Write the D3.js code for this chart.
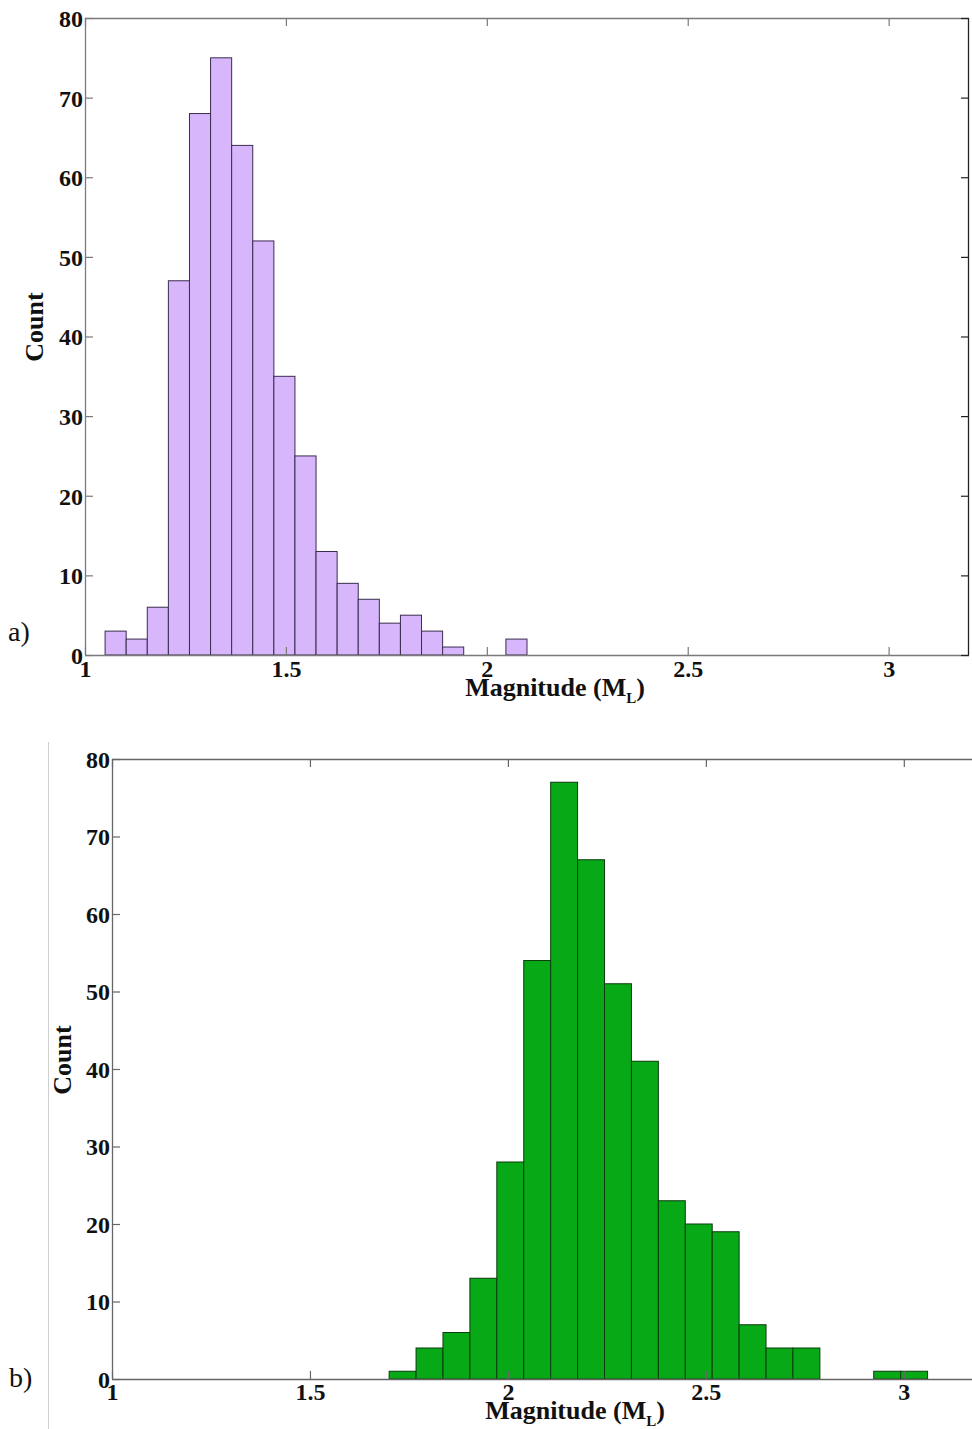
<!DOCTYPE html>
<html>
<head>
<meta charset="utf-8">
<script src="https://cdn.jsdelivr.net/npm/d3@7"></script>
<style>
  html, body { margin: 0; padding: 0; background: #fff; overflow: hidden; }
  svg { display: block; }
  text { font-family: "Liberation Serif", "Times New Roman", serif; }
</style>
</head>
<body>
<svg id="chart" width="972" height="1429"></svg>
<script>
// ---- Data ----
const xTicks = [1, 1.5, 2, 2.5, 3];
const xTickLabels = ["1", "1.5", "2", "2.5", "3"];
const yTicks = [0, 10, 20, 30, 40, 50, 60, 70, 80];
const yTickLabels = ["0", "10", "20", "30", "40", "50", "60", "70", "80"];

// Panel a: 20 bins from 1.05 to 2.10
const binStartA = 1.05;
const binWidthA = 0.0525;
const countsA = [3, 2, 6, 47, 68, 75, 64, 52, 35, 25, 13, 9, 7, 4, 5, 3, 1, 0, 0, 2];

// Panel b: 20 bins from 1.70 to 3.06
const binStartB = 1.70;
const binWidthB = 0.068;
const countsB = [1, 4, 6, 13, 28, 54, 77, 67, 51, 41, 23, 20, 19, 7, 4, 4, 0, 0, 1, 1];

const panels = [
  { label: "a)", counts: countsA, start: binStartA, width: binWidthA,
    left: 85, right: 969, top: 18, bottom: 655, xMax: 3.2,
    fill: "#d7b6fc", stroke: "#3a2c4e", axisColor: "#7a7a7a", rightColor: "#222",
    countX: 43, countY: 327, magX: 555, magY: 696, tickLabelY: 677,
    panelX: 8, panelY: 641 },
  { label: "b)", counts: countsB, start: binStartB, width: binWidthB,
    left: 112, right: 983, top: 759, bottom: 1379, xMax: 3.2,
    fill: "#07aa16", stroke: "#0b3b0e", axisColor: "#666", rightColor: "#222",
    countX: 71, countY: 1060, magX: 575, magY: 1419, tickLabelY: 1400,
    panelX: 9, panelY: 1387 }
];

const svg = d3.select("#chart");

// thin frame line to the left of panel b
svg.append("line")
  .attr("x1", 48.5).attr("x2", 48.5).attr("y1", 742).attr("y2", 1429)
  .attr("stroke", "#cfcfcf").attr("stroke-width", 1);

panels.forEach(p => {
  const x = d3.scaleLinear().domain([1, p.xMax]).range([p.left, p.right]);
  const y = d3.scaleLinear().domain([0, 80]).range([p.bottom, p.top]);
  const g = svg.append("g");

  // bars
  const bins = p.counts.map((c, i) => ({ x0: p.start + i * p.width, x1: p.start + (i + 1) * p.width, c }));
  g.selectAll("rect.bar").data(bins.filter(d => d.c > 0)).enter().append("rect")
    .attr("class", "bar")
    .attr("x", d => x(d.x0))
    .attr("width", d => x(d.x1) - x(d.x0))
    .attr("y", d => y(d.c))
    .attr("height", d => y(0) - y(d.c))
    .attr("fill", p.fill)
    .attr("stroke", p.stroke)
    .attr("stroke-width", 1);

  // box
  g.append("line").attr("x1", p.left).attr("x2", Math.min(p.right, 972)).attr("y1", p.top + 0.5).attr("y2", p.top + 0.5)
    .attr("stroke", p.axisColor).attr("stroke-width", 1.3);
  g.append("line").attr("x1", p.left).attr("x2", Math.min(p.right, 972)).attr("y1", p.bottom + 0.5).attr("y2", p.bottom + 0.5)
    .attr("stroke", p.axisColor).attr("stroke-width", 1.3);
  g.append("line").attr("x1", p.left + 0.5).attr("x2", p.left + 0.5).attr("y1", p.top).attr("y2", p.bottom)
    .attr("stroke", p.axisColor).attr("stroke-width", 1.3);
  g.append("line").attr("x1", p.right - 0.5).attr("x2", p.right - 0.5).attr("y1", p.top).attr("y2", p.bottom)
    .attr("stroke", p.rightColor).attr("stroke-width", 1.3);

  // x axis (bottom) ticks inward, labels
  const xAxis = d3.axisBottom(x).tickValues(xTicks).tickSize(-8)
    .tickFormat((d, i) => xTickLabels[i]);
  const xa = g.append("g").attr("transform", `translate(0,${p.bottom})`).call(xAxis);
  xa.select(".domain").remove();
  xa.selectAll(".tick line").attr("stroke", p.axisColor).attr("stroke-width", 1.2);
  xa.selectAll(".tick text").attr("y", p.tickLabelY - p.bottom).attr("dy", 0)
    .attr("font-size", 24).attr("font-weight", "bold").attr("fill", "#111")
    .attr("font-family", "Liberation Serif, serif");

  // top ticks
  const xTop = d3.axisTop(x).tickValues(xTicks).tickSize(-8).tickFormat("");
  const xt = g.append("g").attr("transform", `translate(0,${p.top})`).call(xTop);
  xt.select(".domain").remove();
  xt.selectAll(".tick line").attr("stroke", p.axisColor).attr("stroke-width", 1.2);

  // y axis ticks inward, labels
  const yAxis = d3.axisLeft(y).tickValues(yTicks).tickSize(-8)
    .tickFormat((d, i) => yTickLabels[i]);
  const ya = g.append("g").attr("transform", `translate(${p.left},0)`).call(yAxis);
  ya.select(".domain").remove();
  ya.selectAll(".tick line").attr("stroke", p.axisColor).attr("stroke-width", 1.2);
  ya.selectAll(".tick text").attr("x", -2).attr("dy", "0.35em")
    .attr("font-size", 24).attr("font-weight", "bold").attr("fill", "#111")
    .attr("font-family", "Liberation Serif, serif");

  // right ticks
  if (p.right <= 972) {
    const yRight = d3.axisRight(y).tickValues(yTicks).tickSize(-8).tickFormat("");
    const yr = g.append("g").attr("transform", `translate(${p.right},0)`).call(yRight);
    yr.select(".domain").remove();
    yr.selectAll(".tick line").attr("stroke", p.rightColor).attr("stroke-width", 1.2);
  }

  // Count label
  g.append("text")
    .attr("transform", `translate(${p.countX},${p.countY}) rotate(-90)`)
    .attr("text-anchor", "middle")
    .attr("font-size", 26).attr("font-weight", "bold").attr("fill", "#111")
    .text("Count");

  // Magnitude label
  const mt = g.append("text")
    .attr("x", p.magX).attr("y", p.magY)
    .attr("text-anchor", "middle")
    .attr("font-size", 26).attr("font-weight", "bold").attr("fill", "#111");
  mt.append("tspan").text("Magnitude (M");
  mt.append("tspan").attr("dy", 7).attr("font-size", 15).text("L");
  mt.append("tspan").attr("dy", -7).text(")");

  // panel label
  g.append("text")
    .attr("x", p.panelX).attr("y", p.panelY)
    .attr("font-size", 28).attr("fill", "#111")
    .text(p.label);
});
</script>
</body>
</html>
